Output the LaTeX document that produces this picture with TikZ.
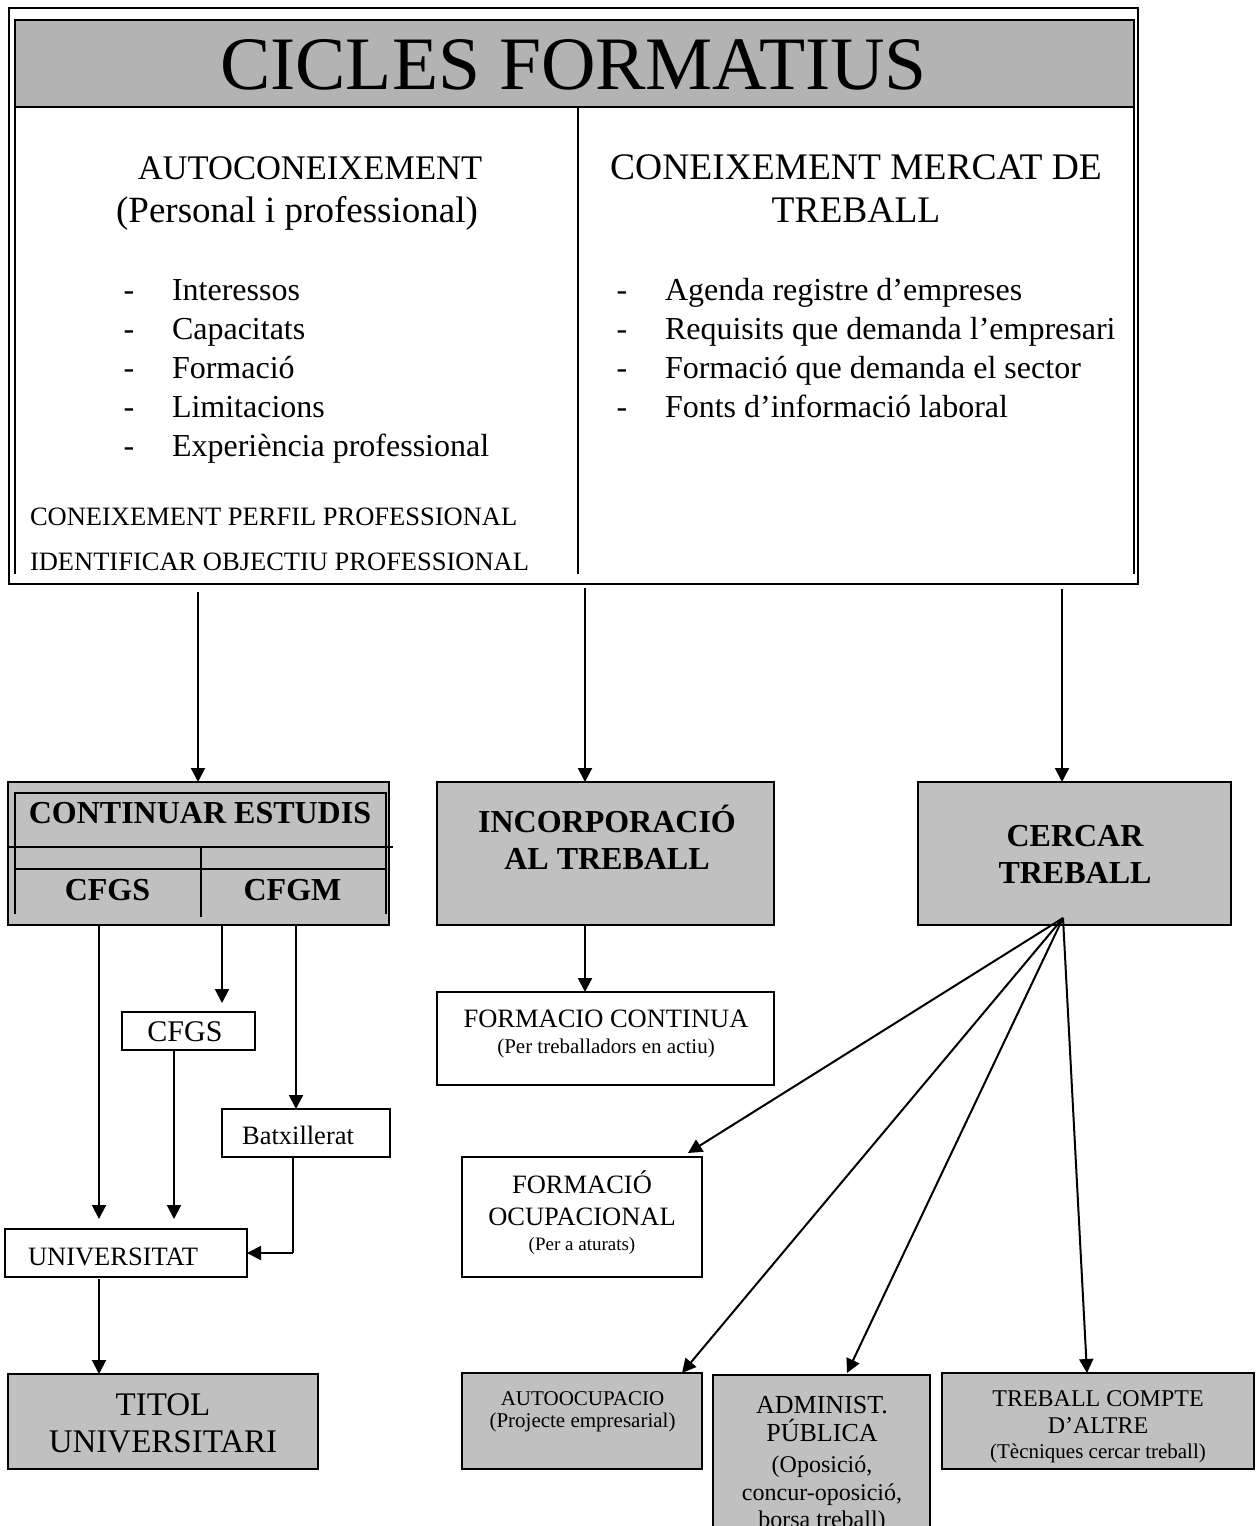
\documentclass[tikz,border=0pt]{standalone}
\usepackage{fontspec}
\setmainfont{Liberation Serif}
\usetikzlibrary{arrows.meta}
\definecolor{bandgray}{RGB}{179,179,179}
\definecolor{boxgray}{RGB}{192,192,192}
\newcommand{\fsz}[1]{\fontsize{#1}{#1}\selectfont}
\begin{document}
\begin{tikzpicture}[x=1pt,y=-1pt,
  gbox/.style={draw, line width=2pt, inner sep=0pt, outer sep=0pt, fill=boxgray},
  wbox/.style={draw, line width=2pt, inner sep=0pt, outer sep=0pt, fill=white},
  arr/.style={line width=2pt, -{Triangle[length=14pt,width=14pt]}},
  ln/.style={line width=2pt},
  txt/.style={inner sep=0pt, outer sep=0pt, anchor=base},
  ltxt/.style={inner sep=0pt, outer sep=0pt, anchor=base west}]
\useasboundingbox (0,0) rectangle (1259,1526);
\clip (0,0) rectangle (1259,1526);
\fill[white] (0,0) rectangle (1259,1526);

% ---------- top frame ----------
\node[draw, line width=1.3pt, inner sep=0pt, minimum width=1129pt, minimum height=576pt] (frame) at (573.5,296) {};
\draw[ln] (15,574) -- (15,20) -- (1134,20) -- (1134,574);
\node[draw, line width=2pt, fill=bandgray, inner sep=0pt, minimum width=1119pt, minimum height=87pt] (band) at (574.5,63.5) {};
\draw[ln] (578,107) -- (578,574);
\node[txt] (title) at (573.5,89) {\fsz{75.5}CICLES FORMATIUS};

\node[txt] (h1a) at (310,179) {\fsz{34.5}AUTOCONEIXEMENT};
\node[txt] (h1b) at (297,222) {\fsz{37}(Personal i professional)};
\node[txt] (h2a) at (856,179) {\fsz{37.5}CONEIXEMENT MERCAT DE};
\node[txt] (h2b) at (856,222) {\fsz{37.5}TREBALL};

\foreach \t [count=\i] in {Interessos,Capacitats,Formació,Limitacions,Experiència professional}{
  \node[txt] (ld\i) at (129,{300+39.2*(\i-1)}) {\fsz{32}-};
  \node[ltxt] (l\i) at (172,{300+39.2*(\i-1)}) {\fsz{32}\t};
}
\foreach \t [count=\i] in {Agenda registre d’empreses,Requisits que demanda l’empresari,Formació que demanda el sector,Fonts d’informació laboral}{
  \node[txt] (rd\i) at (622,{300+39.2*(\i-1)}) {\fsz{32}-};
  \node[ltxt] (r\i) at (665,{300+39.2*(\i-1)}) {\fsz{32}\t};
}
\node[ltxt] (perf) at (30,525) {\fsz{26.5}CONEIXEMENT PERFIL PROFESSIONAL};
\node[ltxt] (ident) at (30,570) {\fsz{26.5}IDENTIFICAR OBJECTIU PROFESSIONAL};

% ---------- second row ----------
\node[gbox, line width=1.5pt, minimum width=381pt, minimum height=143pt] (cont) at (198.5,853.5) {};
\draw[ln] (15,914) -- (15,793) -- (386,793) -- (386,914);
\draw[ln] (8,847) -- (393,847);
\draw[ln] (15,869) -- (386,869);
\draw[ln] (201,847) -- (201,917);
\node[txt] (contt) at (200,823) {\fsz{32}\bfseries CONTINUAR ESTUDIS};
\node[txt] (cfgst) at (107.5,900) {\fsz{32}\bfseries CFGS};
\node[txt] (cfgmt) at (292.5,900) {\fsz{32}\bfseries CFGM};

\node[gbox, minimum width=337pt, minimum height=143pt] (incorp) at (605.5,853.5) {};
\node[txt] (incorpa) at (607,832) {\fsz{32}\bfseries INCORPORACIÓ};
\node[txt] (incorpb) at (607,869) {\fsz{32}\bfseries AL TREBALL};

\node[gbox, minimum width=313pt, minimum height=143pt] (cercar) at (1074.5,853.5) {};
\node[txt] (cercara) at (1075,846) {\fsz{32}\bfseries CERCAR};
\node[txt] (cercarb) at (1075,883) {\fsz{32}\bfseries TREBALL};

\coordinate (s1) at (198,592);
\coordinate (s2) at (585,588);
\coordinate (s3) at (1062,589);
\draw[arr] (s1) -- (s1 |- cont.north);
\draw[arr] (s2) -- (s2 |- incorp.north);
\draw[arr] (s3) -- (s3 |- cercar.north);

% ---------- left column ----------
\node[wbox, minimum width=133pt, minimum height=38pt] (cfgs) at (188.5,1031) {};
\node[txt] (cfgsb) at (185,1041) {\fsz{30}CFGS};
\node[wbox, minimum width=168pt, minimum height=48pt] (batx) at (306,1133) {};
\node[txt] (batxt) at (298,1144) {\fsz{26.5}Batxillerat};
\node[wbox, minimum width=242pt, minimum height=48pt] (univ) at (126,1253) {};
\node[ltxt] (univt) at (28,1265) {\fsz{26.5}UNIVERSITAT};
\node[gbox, minimum width=310pt, minimum height=95pt] (titol) at (163,1421.5) {};
\node[txt] (titola) at (163,1415) {\fsz{33}TITOL};
\node[txt] (titolb) at (163,1452) {\fsz{33}UNIVERSITARI};

\coordinate (c1) at (99,925);
\coordinate (c2) at (222,925);
\coordinate (c3) at (296,925);
\draw[arr, shorten >=10pt] (c1) -- (c1 |- univ.north);
\draw[arr, shorten >=9pt] (c2) -- (c2 |- cfgs.north);
\draw[arr] (c3) -- (c3 |- batx.north);
\coordinate (c4) at (174,1050);
\draw[arr, shorten >=10pt] (c4) -- (c4 |- univ.north);
\coordinate (c5) at (293,1157);
\draw[ln] (c5) -- (293,1253);
\draw[arr] (293,1253) -- (univ.east);
\coordinate (c6) at (99,1279);
\draw[arr] (c6) -- (c6 |- titol.north);

% ---------- middle column ----------
\node[wbox, minimum width=337pt, minimum height=93pt] (fcont) at (605.5,1038.5) {};
\node[txt] (fconta) at (606,1027) {\fsz{26.5}FORMACIO CONTINUA};
\node[txt] (fcontb) at (606,1053) {\fsz{21}(Per treballadors en actiu)};
\coordinate (m1) at (585,925);
\draw[arr] (m1) -- (m1 |- fcont.north);

\node[wbox, minimum width=240pt, minimum height=120pt] (focup) at (582,1217) {};
\node[txt] (focupa) at (582,1193) {\fsz{26.5}FORMACIÓ};
\node[txt] (focupb) at (582,1225) {\fsz{26.5}OCUPACIONAL};
\node[txt] (focupc) at (582,1250) {\fsz{19}(Per a aturats)};

% ---------- bottom row ----------
\node[gbox, minimum width=240pt, minimum height=96pt] (autoc) at (582,1421) {};
\node[txt] (autoca) at (582.5,1405) {\fsz{21}AUTOOCUPACIO};
\node[txt] (autocb) at (582.5,1427) {\fsz{21}(Projecte empresarial)};

\node[gbox, minimum width=217pt, minimum height=165pt] (admin) at (821.5,1457.5) {};
\node[txt] (admina) at (822,1413) {\fsz{26}ADMINIST.};
\node[txt] (adminb) at (822,1441) {\fsz{26}PÚBLICA};
\node[txt] (adminc) at (822,1472) {\fsz{24}(Oposició,};
\node[txt] (admind) at (822,1500) {\fsz{24}concur-oposició,};
\node[txt] (admine) at (822,1527) {\fsz{24}borsa treball)};

\node[gbox, minimum width=312pt, minimum height=96pt] (treb) at (1098,1421) {};
\node[txt] (treba) at (1098,1406) {\fsz{24}TREBALL COMPTE};
\node[txt] (trebb) at (1098,1433) {\fsz{24}D’ALTRE};
\begin{scope}
\clip (942,1440) rectangle (1254,1462);
\node[txt] (trebc) at (1098,1458) {\fsz{21}(Tècniques cercar treball)};
\end{scope}

\coordinate (fan) at (1063,918);
\draw[arr] (fan) -- (688,1153);
\draw[arr] (fan) -- (682,1373);
\draw[arr] (fan) -- (847,1373);
\draw[arr] (fan) -- (1087,1373);
\end{tikzpicture}
\end{document}
